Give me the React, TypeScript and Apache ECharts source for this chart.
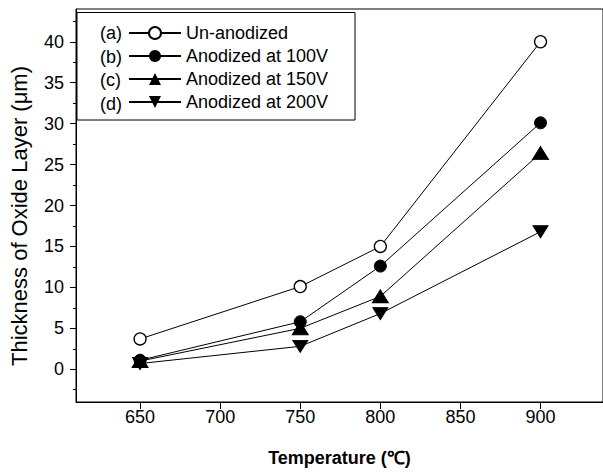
import React, { useEffect, useRef } from "react";
import * as echarts from "echarts";

const temperatures = [650, 750, 800, 900];
const unAnodized = [3.7, 10.1, 15.0, 40.0];
const anodized100 = [1.1, 5.8, 12.6, 30.1];
const anodized150 = [1.0, 5.0, 8.9, 26.4];
const anodized200 = [0.7, 2.8, 6.8, 16.8];

const seriesTags = ["(a)", "(b)", "(c)", "(d)"];
const seriesNames = ["Un-anodized", "Anodized at 100V", "Anodized at 150V", "Anodized at 200V"];

const xTicks = [650, 700, 750, 800, 850, 900];
const yMajorTicks = [0, 5, 10, 15, 20, 25, 30, 35, 40];
const yMinorTicks = [-2.5, 2.5, 7.5, 12.5, 17.5, 22.5, 27.5, 32.5, 37.5, 42.5];

const FONT = "'Liberation Sans', Arial, sans-serif";

export default function App() {
  const ref = useRef<HTMLDivElement>(null);
  useEffect(() => {
    if (!ref.current) return;
    const chart = echarts.init(ref.current, undefined, { renderer: "svg" });
    const pairs = (ys: number[]) => temperatures.map((t, i) => [t, ys[i]]);
    const lineStyle = { color: "#000", width: 1 };
    const rowY = [33, 56.5, 80, 103.5];
    chart.setOption({
      animation: false,
      backgroundColor: "#fff",
      grid: { left: 74, top: 9, right: -2, bottom: 71, show: true, borderColor: "#000", borderWidth: 1 },
      xAxis: {
        type: "value",
        min: 610,
        max: 939,
        name: "Temperature (\u2103)",
        nameLocation: "middle",
        nameGap: 47,
        nameTextStyle: { fontFamily: FONT, fontSize: 18, fontWeight: "bold", color: "#000" },
        axisLine: { onZero: false, lineStyle: { color: "#000", width: 1 } },
        axisTick: { show: true, inside: false, length: 7, lineStyle: { color: "#000" }, customValues: xTicks },
        axisLabel: { customValues: xTicks, fontFamily: FONT, fontSize: 18, color: "#000", margin: 6 },
        splitLine: { show: false },
      },
      yAxis: [
        {
          type: "value",
          min: -4,
          max: 44,
          name: "Thickness of Oxide Layer (\u03bcm)",
          nameLocation: "middle",
          nameGap: 46,
          nameTextStyle: { fontFamily: FONT, fontSize: 22, color: "#000", padding: [0, 21, 0, 0] },
          axisLine: { show: true, onZero: false, lineStyle: { color: "#000", width: 1 } },
          axisTick: { show: true, inside: false, length: 6, lineStyle: { color: "#000" }, customValues: yMajorTicks },
          axisLabel: { customValues: yMajorTicks, fontFamily: FONT, fontSize: 18, color: "#000", margin: 12 },
          splitLine: { show: false },
        },
        {
          type: "value",
          min: -4,
          max: 44,
          position: "left",
          axisLine: { show: false, onZero: false },
          axisTick: { show: true, inside: false, length: 3, lineStyle: { color: "#000" }, customValues: yMinorTicks },
          axisLabel: { show: false },
          splitLine: { show: false },
        },
      ],
      legend: {
        orient: "vertical",
        left: 123,
        top: 19,
        itemWidth: 52,
        itemHeight: 15,
        itemGap: 5,
        textStyle: { fontFamily: FONT, fontSize: 18, color: "#000" },
        data: seriesNames,
      },
      graphic: [
        {
          type: "rect",
          shape: { x: 77, y: 12.5, width: 278, height: 107.5 },
          style: { fill: "none", stroke: "#000", lineWidth: 1 },
          z: 10,
        },
        ...seriesTags.map((t, i) => ({
          type: "text",
          x: 100,
          y: rowY[i],
          style: { text: t, fontFamily: FONT, fontSize: 18, fill: "#000", textVerticalAlign: "middle" },
          z: 10,
        })),
      ],
      series: [
        {
          name: seriesNames[0],
          type: "line",
          data: pairs(unAnodized),
          symbol: "circle",
          symbolSize: 12,
          lineStyle,
          itemStyle: { color: "#fff", borderColor: "#000", borderWidth: 1.3 },
        },
        {
          name: seriesNames[1],
          type: "line",
          data: pairs(anodized100),
          symbol: "circle",
          symbolSize: 12,
          lineStyle,
          itemStyle: { color: "#000", borderColor: "#000" },
        },
        {
          name: seriesNames[2],
          type: "line",
          data: pairs(anodized150),
          symbol: "triangle",
          symbolSize: [16, 13],
          lineStyle,
          itemStyle: { color: "#000", borderColor: "#000" },
        },
        {
          name: seriesNames[3],
          type: "line",
          data: pairs(anodized200),
          symbol: "triangle",
          symbolRotate: 180,
          symbolSize: [15, 12],
          lineStyle,
          itemStyle: { color: "#000", borderColor: "#000" },
        },
      ],
    });
    return () => chart.dispose();
  }, []);
  return (
    <div
      ref={ref}
      style={{ position: "absolute", left: 0, top: 0, width: 603, height: 473, background: "#fff" }}
    />
  );
}
